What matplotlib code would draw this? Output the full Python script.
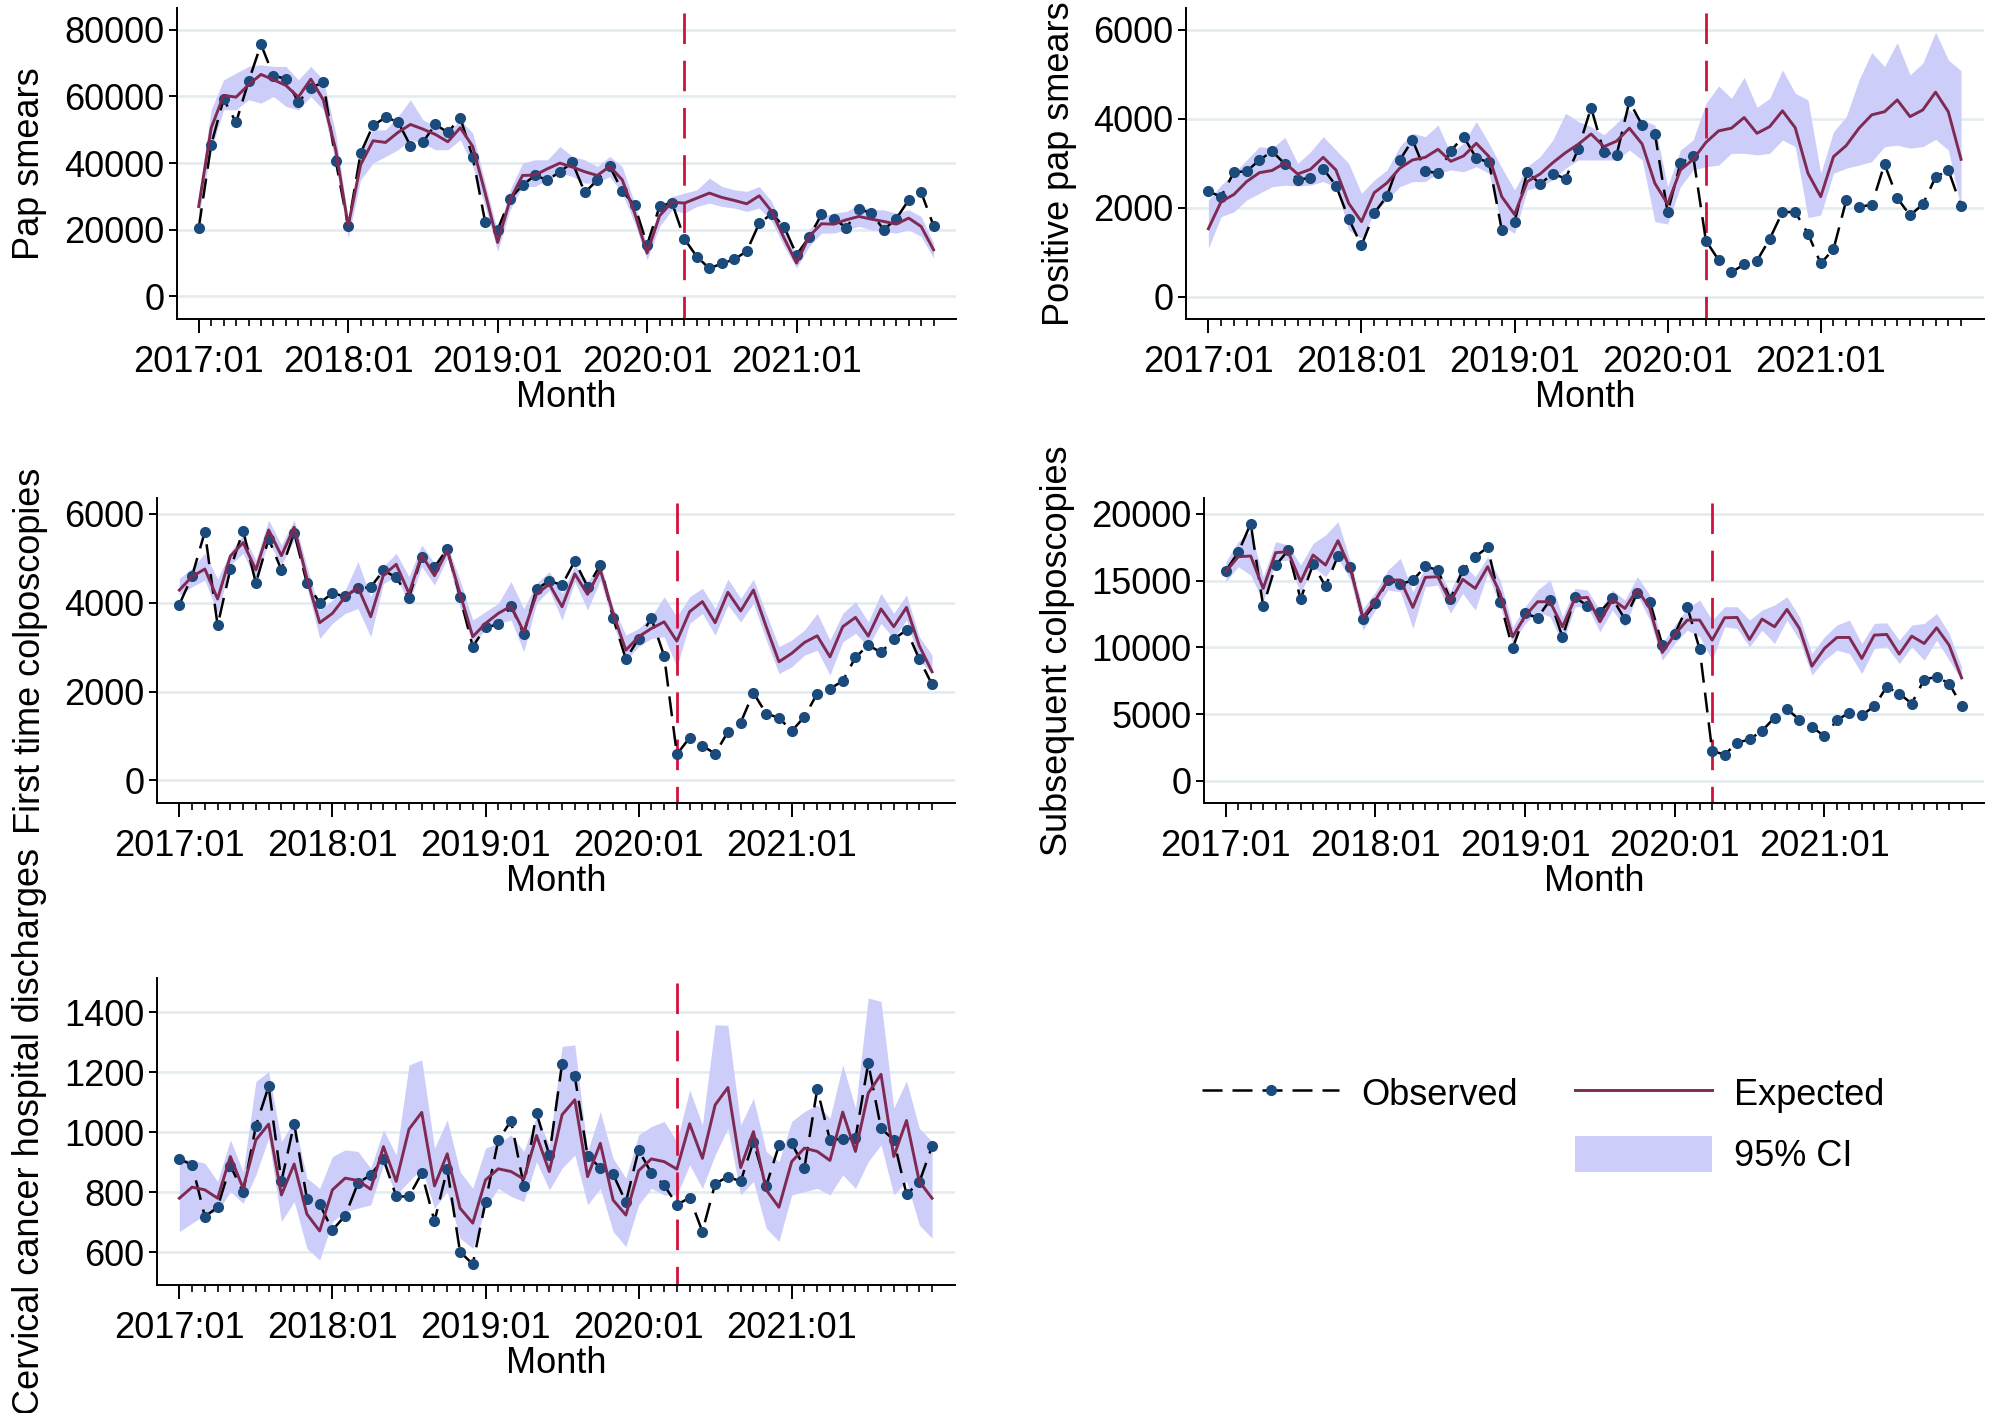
import numpy as np
import matplotlib
matplotlib.use("Agg")
import matplotlib.pyplot as plt
from matplotlib.lines import Line2D
from matplotlib.patches import Patch

plt.rcParams['font.family'] = ['Liberation Sans', 'DejaVu Sans']

# months 2017:01 .. 2021:12
months = np.arange(60)
year_ticks = [0, 12, 24, 36, 48]
year_labels = ['2017:01', '2018:01', '2019:01', '2020:01', '2021:01']
interruption = 39  # 2020:04

# Pap smears
pap_obs = [20500, 45500, 59200, 52200, 64500, 75600, 66200, 65300, 58300, 62500, 64300, 40700,
           21000, 43000, 51300, 53700, 52400, 45200, 46300, 51600, 49200, 53600, 41800, 22300,
           20000, 29300, 33400, 36300, 34900, 37400, 40200, 31200, 34900, 39000, 31700, 27300,
           15500, 27000, 28100, 17200, 11900, 8400, 9900, 11100, 13600, 21900, 24800, 20900,
           12500, 17700, 24600, 23300, 20600, 26200, 25000, 20000, 23300, 28900, 31300, 21200]
pap_exp = [27000, 50500, 60300, 59800, 63500, 66600, 65000, 63300, 59800, 65200, 59000, 44000,
           21200, 39500, 46700, 46200, 49200, 51600, 50200, 48600, 46400, 50600, 45000, 31000,
           16200, 29000, 36300, 36400, 38300, 40000, 38800, 37400, 36300, 39000, 35000, 25000,
           13000, 24200, 28300, 28000, 29500, 31000, 29700, 28800, 27800, 30200, 25500, 17500,
           10000, 18000, 21800, 21700, 23000, 24000, 23200, 22500, 21700, 23500, 21000, 14000]
pap_lo = [24000, 44000, 56000, 56000, 59000, 58000, 60000, 57000, 56000, 60000, 56000, 40000,
          17500, 35000, 40000, 42000, 44000, 47000, 46000, 44000, 44000, 47000, 39000, 27000,
          13500, 26000, 33000, 33000, 35000, 37000, 36000, 34000, 34000, 36000, 31000, 22000,
          11000, 21000, 26000, 25000, 27000, 28000, 27000, 26500, 25500, 26500, 22500, 15000,
          8500, 15000, 19000, 19000, 20000, 21000, 20000, 19500, 19000, 20000, 18000, 11500]
pap_hi = [30000, 56000, 65000, 67000, 69000, 69500, 69000, 69000, 65000, 69000, 65000, 49000,
          23000, 43000, 50000, 50000, 54000, 59000, 53000, 51000, 49000, 53000, 49000, 34000,
          19500, 32000, 40000, 41000, 41000, 45000, 42000, 41000, 39000, 42000, 39000, 28000,
          15000, 27000, 30000, 31000, 32000, 35500, 33000, 32000, 31500, 33000, 28500, 20000,
          12000, 20000, 24000, 25000, 25500, 27500, 26000, 26000, 25000, 26000, 24000, 16000]

# Positive pap smears
pos_obs = [2370, 2250, 2800, 2820, 3075, 3270, 2985, 2625, 2680, 2880, 2500, 1755,
           1155, 1880, 2265, 3070, 3525, 2830, 2775, 3280, 3600, 3120, 3020, 1500,
           1690, 2810, 2535, 2770, 2655, 3330, 4250, 3250, 3190, 4390, 3860, 3670,
           1900, 3000, 3165, 1260, 825, 550, 730, 810, 1300, 1905, 1905, 1420,
           750, 1070, 2170, 2020, 2070, 2985, 2220, 1830, 2080, 2685, 2850, 2040]
pos_exp = [1530, 2140, 2300, 2590, 2790, 2840, 3010, 2760, 2865, 3135, 2850, 2100,
           1690, 2340, 2560, 2890, 3075, 3135, 3315, 3045, 3165, 3450, 3150, 2250,
           1850, 2590, 2760, 3015, 3240, 3430, 3660, 3375, 3500, 3790, 3435, 2550,
           2085, 2850, 3090, 3470, 3730, 3790, 4030, 3675, 3825, 4180, 3800, 2775,
           2250, 3150, 3400, 3790, 4090, 4160, 4425, 4050, 4200, 4600, 4160, 3090]
pos_lo = [1090, 1800, 1910, 2175, 2325, 2475, 2510, 2490, 2510, 2590, 2475, 1500,
          1310, 1875, 2175, 2475, 2590, 2590, 2775, 2850, 2810, 2925, 2775, 1600,
          1425, 2400, 2475, 2625, 2890, 3075, 3075, 3075, 3075, 3300, 3075, 1690,
          1635, 2475, 2850, 2925, 2960, 3225, 3225, 3190, 3225, 3525, 3375, 1780,
          1840, 2775, 2890, 2960, 3040, 3375, 3410, 3340, 3375, 3540, 3300, 1990]
pos_hi = [2175, 2510, 2775, 3075, 3375, 3340, 3585, 3000, 3260, 3600, 3300, 3000,
          2325, 2625, 2850, 3375, 3675, 3600, 3860, 3225, 3450, 3940, 3450, 2900,
          2400, 2925, 3150, 3525, 4125, 3940, 3825, 3640, 3900, 4200, 3975, 3860,
          2475, 3300, 3525, 4350, 4740, 4460, 4935, 4260, 4460, 5100, 4575, 4425,
          2775, 3710, 4050, 4875, 5490, 5175, 5715, 4990, 5250, 5950, 5325, 5080]

# First time colposcopies
first_obs = [3960, 4600, 5600, 3490, 4760, 5625, 4440, 5440, 4740, 5580, 4440, 4000,
             4210, 4145, 4325, 4350, 4730, 4570, 4115, 5040, 4800, 5210, 4135, 3010,
             3445, 3510, 3925, 3295, 4310, 4490, 4400, 4940, 4360, 4850, 3660, 2730,
             3190, 3650, 2805, 585, 960, 775, 600, 1090, 1300, 1970, 1500, 1410,
             1110, 1430, 1955, 2060, 2240, 2770, 3045, 2880, 3180, 3385, 2730, 2160]
first_exp = [4285, 4590, 4760, 4085, 5050, 5355, 4740, 5640, 5060, 5700, 4550, 3550,
             3760, 4135, 4350, 3685, 4625, 4865, 4210, 5075, 4610, 5175, 4210, 3235,
             3535, 3760, 3925, 3345, 4195, 4420, 3910, 4650, 4190, 4740, 3760, 2930,
             3235, 3420, 3570, 3135, 3800, 4025, 3550, 4235, 3815, 4285, 3460, 2670,
             2860, 3105, 3255, 2780, 3460, 3670, 3250, 3860, 3460, 3895, 3030, 2445]
first_lo = [4170, 4360, 4510, 3760, 4850, 5115, 4510, 5375, 4850, 5415, 4360, 3195,
            3535, 3760, 3870, 3235, 4435, 4590, 3985, 4815, 4400, 5000, 3910, 3085,
            3385, 3535, 3610, 2895, 3985, 4285, 3610, 4475, 3835, 4510, 3535, 2705,
            3010, 3195, 3235, 2555, 3535, 3760, 3270, 3950, 3570, 3985, 3160, 2405,
            2555, 2820, 2930, 2370, 3120, 3310, 3010, 3535, 3195, 3610, 2705, 2405]
first_hi = [4545, 4780, 5115, 4535, 5150, 5530, 4965, 5865, 5300, 5865, 4815, 3835,
            4060, 4285, 4925, 4135, 4815, 5115, 4585, 5300, 4890, 5300, 4510, 3610,
            3800, 3985, 4475, 3870, 4435, 4700, 4210, 4850, 4475, 4890, 3910, 3270,
            3420, 3685, 4135, 3685, 4135, 4325, 3870, 4535, 4100, 4530, 3760, 3010,
            3160, 3385, 3760, 3160, 3760, 4025, 3570, 4210, 3760, 4175, 3235, 2820]

# Subsequent colposcopies
subs_obs = [15750, 17125, 19275, 13075, 16150, 17275, 13625, 16225, 14575, 16875, 16000, 12100,
            13300, 15050, 14750, 15025, 16075, 15800, 13625, 15775, 16800, 17500, 13425, 9925,
            12550, 12225, 13550, 10775, 13750, 13125, 12650, 13675, 12125, 14100, 13425, 10200,
            11000, 13050, 9875, 2250, 1975, 2850, 3125, 3750, 4750, 5375, 4600, 4050,
            3350, 4550, 5125, 4925, 5600, 7050, 6550, 5800, 7600, 7800, 7300, 5650]
subs_exp = [15675, 16800, 16850, 14425, 17100, 17175, 14925, 16925, 16175, 18000, 15850, 12250,
            13550, 15050, 15050, 13000, 15250, 15300, 13425, 15100, 14425, 16050, 14050, 10800,
            12350, 13425, 13425, 11550, 13675, 13750, 11925, 13600, 12925, 14350, 12925, 9625,
            10975, 12050, 12050, 10550, 12225, 12250, 10600, 12125, 11550, 12850, 11425, 8600,
            9925, 10750, 10750, 9175, 10925, 10975, 9500, 10850, 10300, 11475, 10175, 7725]
subs_lo = [14925, 16050, 15425, 13425, 16425, 16550, 14050, 16050, 15300, 16675, 15050, 11300,
           12800, 14300, 14175, 11425, 14550, 14675, 12550, 14050, 12800, 15550, 13050, 10300,
           11800, 12675, 12300, 10300, 13050, 13050, 11175, 12800, 11550, 13925, 12050, 9050,
           10300, 11300, 10800, 9050, 11550, 11425, 10050, 11300, 10300, 12050, 10550, 7925,
           9050, 9800, 9550, 8050, 9925, 10050, 8800, 10050, 9050, 10550, 9050, 7550]
subs_hi = [16425, 17925, 18675, 15300, 17925, 17675, 16175, 17800, 18425, 19425, 16425, 12925,
           14150, 15800, 16675, 14175, 16050, 15925, 14175, 16300, 15300, 16800, 15050, 11550,
           13050, 14300, 15050, 12300, 14425, 14300, 12800, 14300, 13550, 15300, 13925, 10300,
           11675, 12925, 13550, 12050, 13050, 13050, 12050, 12800, 13175, 13800, 12300, 9550,
           10800, 11675, 12050, 10300, 11800, 11850, 10550, 11675, 11800, 12550, 11050, 8550]

# Cervical cancer hospital discharges
cc_obs = [911, 891, 719, 750, 889, 800, 1021, 1153, 836, 1029, 778, 760,
          674, 722, 830, 858, 911, 786, 786, 863, 704, 877, 602, 560,
          769, 973, 1038, 822, 1063, 924, 1227, 1186, 921, 882, 860, 767,
          941, 864, 824, 758, 782, 669, 828, 852, 836, 969, 821, 956,
          963, 882, 1143, 974, 978, 980, 1230, 1013, 974, 793, 833, 953]
cc_exp = [780, 817, 808, 780, 919, 813, 974, 1027, 791, 894, 727, 671,
          808, 847, 839, 810, 952, 836, 1010, 1066, 821, 928, 747, 697,
          841, 878, 869, 844, 989, 869, 1058, 1108, 852, 963, 774, 724,
          872, 911, 902, 877, 1028, 913, 1091, 1149, 882, 1002, 808, 750,
          902, 947, 936, 906, 1067, 936, 1130, 1193, 919, 1039, 836, 780]
cc_lo = [669, 697, 724, 736, 802, 763, 858, 980, 702, 769, 613, 574,
         702, 736, 747, 758, 891, 791, 836, 880, 747, 802, 647, 613,
         747, 813, 786, 769, 902, 808, 880, 924, 758, 813, 669, 619,
         758, 813, 791, 791, 891, 813, 924, 1013, 791, 836, 680, 636,
         791, 802, 813, 791, 858, 813, 902, 958, 791, 836, 691, 647]
cc_hi = [913, 907, 897, 836, 974, 869, 1169, 1202, 969, 1038, 847, 813,
         919, 941, 936, 880, 1008, 924, 1224, 1241, 947, 1041, 869, 813,
         947, 963, 991, 936, 1052, 958, 1286, 1291, 936, 1069, 913, 847,
         991, 1019, 1036, 969, 1141, 1024, 1358, 1356, 1024, 1113, 936, 902,
         1036, 1069, 1091, 1047, 1224, 1080, 1447, 1436, 1080, 1171, 1013, 969]

# colours
ci_col = '#cdcdfa'
exp_col = '#7f2a52'
obs_col = '#1b4a7c'
red_col = '#d2103c'
grid_col = '#e2ebed'

fig = plt.figure(figsize=(19.9, 14.13), dpi=100)

# (obs, exp, lo, hi, ylabel, ylim, yticks, axes rect)
panels = [
    (pap_obs, pap_exp, pap_lo, pap_hi, 'Pap smears', (-6780, 86510),
     np.arange(0, 80001, 20000), [0.0889, 0.7742, 0.3915, 0.2201]),
    (pos_obs, pos_exp, pos_lo, pos_hi, 'Positive pap smears', (-500, 6490),
     np.arange(0, 6001, 2000), [0.596, 0.7742, 0.401, 0.2201]),
    (first_obs, first_exp, first_lo, first_hi, 'First time colposcopies', (-512, 6361),
     np.arange(0, 6001, 2000), [0.0789, 0.4317, 0.401, 0.2159]),
    (subs_obs, subs_exp, subs_lo, subs_hi, 'Subsequent colposcopies', (-1650, 21200),
     np.arange(0, 20001, 5000), [0.605, 0.4317, 0.392, 0.2159]),
    (cc_obs, cc_exp, cc_lo, cc_hi, 'Cervical cancer hospital discharges', (491, 1514),
     np.arange(600, 1401, 200), [0.0789, 0.0906, 0.401, 0.2173]),
]

for obs, expd, lo, hi, ylab, ylim, yt, rect in panels:
    ax = fig.add_axes(rect)
    ax.fill_between(months, lo, hi, color=ci_col, lw=0, zorder=1)
    # interruption line, drawn top-down so the dash pattern starts at the top
    ax.plot([interruption, interruption], [0.985, 0.0], transform=ax.get_xaxis_transform(),
            color=red_col, lw=2.0, dashes=(11, 6), zorder=2)
    ax.plot(months, obs, color='black', lw=1.8, dashes=(8, 4), marker='o', ms=7,
            mfc=obs_col, mec=obs_col, zorder=3)
    ax.plot(months, expd, color=exp_col, lw=2.1, zorder=4)

    ax.set_xlim(-1.75, 60.8)
    ax.set_ylim(*ylim)
    ax.set_yticks(yt)
    ax.set_xticks(year_ticks)
    ax.set_xticklabels(year_labels)
    ax.set_xticks(months, minor=True)
    ax.yaxis.grid(True, color=grid_col, lw=1.8, zorder=0)
    ax.set_axisbelow(True)
    for s in ['top', 'right']:
        ax.spines[s].set_visible(False)
    for s in ['left', 'bottom']:
        ax.spines[s].set_linewidth(1.4)
    ax.tick_params(axis='x', which='major', length=10, width=1.4, labelsize=26, pad=9)
    ax.tick_params(axis='x', which='minor', length=5, width=1.2)
    ax.tick_params(axis='y', length=6, width=1.4, labelsize=26, pad=3)
    ax.set_xlabel('Month', fontsize=26, labelpad=0)
    ax.set_ylabel(ylab, fontsize=26, labelpad=12)

# legend in the empty bottom-right slot
handles = [
    Line2D([], [], color='black', lw=1.8, dashes=(8, 4), marker='o', ms=7,
           mfc=obs_col, mec=obs_col),
    Line2D([], [], color='none'),
    Line2D([], [], color=exp_col, lw=2.1),
    Patch(facecolor=ci_col, edgecolor='none'),
]
labels = ['Observed', ' ', 'Expected', '95% CI']
fig.legend(handles, labels, loc='upper left', bbox_to_anchor=(0.604, 0.2395),
           ncol=2, frameon=False, fontsize=26, handlelength=3.8, handleheight=1.15,
           handletextpad=0.6, columnspacing=1.6, labelspacing=0.65, borderpad=0,
           borderaxespad=0)

fig.savefig('out.png', dpi=100)
